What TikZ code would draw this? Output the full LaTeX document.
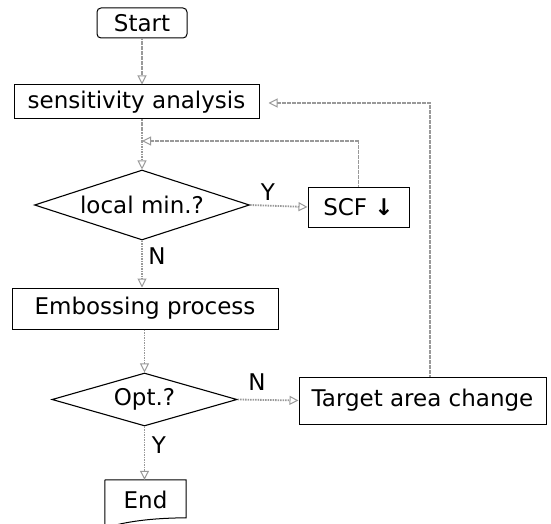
\documentclass[tikz,border=0pt]{standalone}
\usepackage{fontspec}
\usetikzlibrary{shapes.geometric,arrows.meta}
\newfontfamily\lblfont{DejaVu Sans}
\tikzset{
  lbl/.style={font=\lblfont\fontsize{23}{27}\selectfont},
  procbox/.style={lbl, draw=black, line width=1pt, rectangle, inner sep=0pt},
  decision/.style={lbl, draw=black, line width=1.1pt, diamond, aspect=3, inner sep=0pt},
  flow/.style={draw=black!40, line width=1.8pt, dash pattern=on 1.6pt off 0.9pt,
    -{Triangle[open,length=9pt,width=9pt,line width=1pt,sep=0pt]}},
  plain/.style={draw=black!40, line width=1.8pt, dash pattern=on 1.6pt off 0.9pt},
  tag/.style={lbl, inner sep=0pt}
}
\begin{document}
\begin{tikzpicture}[x=1pt,y=-1pt]
\useasboundingbox (0,0) rectangle (551,524);
\clip (0,0) rectangle (551,524);

% main column
\node[procbox, rounded corners=4pt, minimum width=90pt, minimum height=30pt] (start) at (142,23) {Start};
\node[procbox, minimum width=245pt, minimum height=34pt] (sens) at (136.5,102) {sensitivity analysis};
\node[decision, minimum width=215pt, minimum height=70pt] (locmin) at (142,205) {local min.?};
\node[procbox, minimum width=101pt, minimum height=40pt] (scf) at (358.5,207) {SCF \textbf{↓}};
\node[procbox, minimum width=266pt, minimum height=41pt] (emb) at (145,308.5) {Embossing process};
\node[decision, minimum width=185pt, minimum height=53pt] (opt) at (144.5,399.5) {Opt.?};
\node[procbox, minimum width=247pt, minimum height=47pt] (target) at (422.5,400.5) {Target area change};

% terminal box with a wavy lower edge
\node[lbl, minimum width=81pt, minimum height=40pt, inner sep=0pt] (end) at (145.5,500) {End};
\draw[black, line width=1pt]
  (end.north west) -- (end.north east) -- ++(0,38)
  .. controls (160,518) and (130,520) .. (105,528)
  -- (end.north west);

% junction points of the two loops
\coordinate (j1) at (142,141);
\coordinate (fb) at (430,103);

% connectors
\draw[flow] (start.south) -- (start.south |- sens.north);
\draw[plain] (sens.south -| j1) -- (j1);
\draw[flow] (j1) -- (locmin.north);
\draw[flow] (locmin.east) -- (scf.west);
\draw[flow] (scf.north) |- (j1);
\draw[flow] (locmin.south) -- (locmin.south |- emb.north);
\draw[flow] (emb.south -| opt.north) -- (opt.north);
\draw[flow] (opt.east) -- (target.west);
\draw[flow] (opt.south) -- (opt.south |- end.north);
\draw[flow, shorten >=9pt] (target.north -| fb) -- (fb) -- (sens.east |- fb);

% branch labels
\node[tag] (ylocal) at (268,192) {Y};
\node[tag] (nlocal) at (157,256) {N};
\node[tag] (nopt) at (257,382) {N};
\node[tag] (yopt) at (159,445) {Y};
\end{tikzpicture}
\end{document}
